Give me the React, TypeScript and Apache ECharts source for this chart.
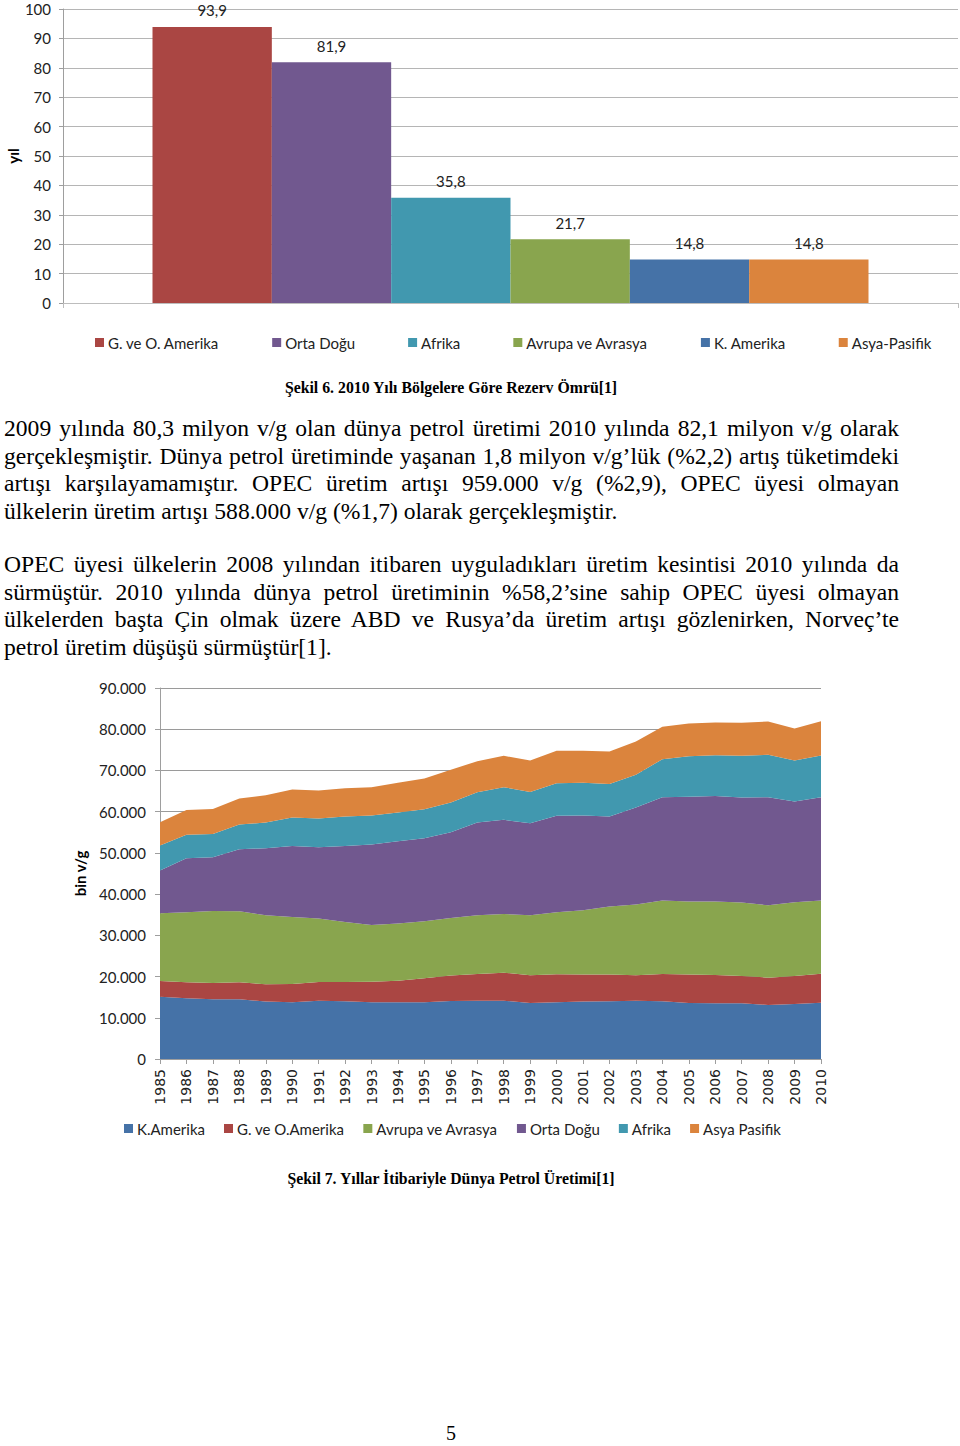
import React, { useEffect, useRef } from "react";
import * as echarts from "echarts";

// ---- Şekil 6 data ----
const reserveRegions = ["G. ve O. Amerika", "Orta Doğu", "Afrika", "Avrupa ve Avrasya", "K. Amerika", "Asya-Pasifik"];
const reserveYears = [93.9, 81.9, 35.8, 21.7, 14.8, 14.8];
const reserveColors = ["#AA4643", "#71588F", "#4198AF", "#89A54E", "#4572A7", "#DB843D"];
const reserveTicks = [0, 10, 20, 30, 40, 50, 60, 70, 80, 90, 100];

// ---- Şekil 7 data ----
const years = [
  "1985", "1986", "1987", "1988", "1989", "1990", "1991", "1992", "1993", "1994", "1995", "1996", "1997",
  "1998", "1999", "2000", "2001", "2002", "2003", "2004", "2005", "2006", "2007", "2008", "2009", "2010",
];
const prodRegions = ["K.Amerika", "G. ve O.Amerika", "Avrupa ve Avrasya", "Orta Doğu", "Afrika", "Asya Pasifik"];
const kAmerika = [15130, 14720, 14480, 14480, 13920, 13750, 14160, 14000, 13750, 13750, 13750, 14080, 14160, 14160, 13590, 13750, 13920, 14000, 14160, 14000, 13590, 13510, 13510, 13110, 13350, 13670];
const gOAmerika = [3800, 3890, 3970, 4130, 4200, 4450, 4530, 4690, 5020, 5260, 5830, 6150, 6470, 6790, 6720, 6800, 6550, 6470, 6150, 6630, 6880, 6880, 6630, 6630, 6790, 7040];
const avrupaAvrasya = [16420, 16990, 17470, 17230, 16750, 16260, 15370, 14560, 13750, 13840, 13830, 13990, 14240, 14240, 14560, 15050, 15610, 16500, 17150, 17800, 17720, 17800, 17800, 17560, 17880, 17720];
const ortaDogu = [10360, 13100, 13030, 15050, 16260, 17240, 17310, 18450, 19500, 19980, 20150, 20790, 22490, 22820, 22330, 23380, 22980, 21840, 23540, 25080, 25400, 25640, 25490, 26210, 24430, 25080];
const afrika = [6070, 5670, 5660, 5980, 6230, 6870, 6960, 7110, 7040, 6950, 7030, 7200, 7360, 7920, 7600, 7920, 7930, 7930, 7930, 9220, 9870, 9870, 10110, 10270, 9960, 10110];
const asyaPasifik = [5660, 6060, 6060, 6310, 6630, 6800, 6790, 6880, 6870, 7210, 7440, 7930, 7520, 7610, 7610, 7850, 7760, 7850, 8090, 7850, 7930, 7930, 8010, 8090, 7760, 8330];
const prodSeries = [kAmerika, gOAmerika, avrupaAvrasya, ortaDogu, afrika, asyaPasifik];
const prodColors = ["#4572A7", "#AA4643", "#89A54E", "#71588F", "#4198AF", "#DB843D"];

const SANS = "Lato, 'Open Sans', sans-serif";
const SERIF = "'Liberation Serif', 'Times New Roman', serif";

function ReserveChart() {
  const ref = useRef<HTMLDivElement>(null);
  useEffect(() => {
    if (!ref.current) return;
    const chart = echarts.init(ref.current, undefined, { renderer: "svg" });
    chart.setOption({
      animation: false,
      grid: { left: 63, right: 2, top: 9, bottom: 67, containLabel: false, outerBoundsMode: "none" },
      graphic: [
        {
          type: "text",
          x: 13,
          y: 156,
          rotation: Math.PI / 2,
          style: {
            text: "yıl",
            fontFamily: SANS,
            fontSize: 15,
            fontWeight: "bold",
            fill: "#000",
            align: "center",
            verticalAlign: "middle",
          },
        },
      ],
      legend: {
        left: 95,
        top: 335,
        padding: 0,
        itemWidth: 9,
        itemHeight: 9,
        itemGap: 53,
        icon: "rect",
        textStyle: { fontFamily: SANS, fontSize: 15, color: "#222", padding: [0, 0, 0, -1] },
        data: reserveRegions,
      },
      xAxis: {
        type: "category",
        data: [""],
        axisLine: { lineStyle: { color: "#BDBDBD" } },
        axisTick: { show: true, length: 5, lineStyle: { color: "#BDBDBD" } },
        axisLabel: { show: false },
      },
      yAxis: {
        type: "value",
        min: 0,
        max: 100,
        interval: 10,
        axisLine: { show: true, lineStyle: { color: "#9E9E9E" } },
        axisTick: { show: true, length: 4, lineStyle: { color: "#9E9E9E" } },
        axisLabel: {
          fontFamily: SANS,
          fontSize: 15,
          color: "#222",
          margin: 12,
          formatter: (v: number) => (reserveTicks.includes(v) ? String(v) : ""),
        },
        splitLine: { lineStyle: { color: "#B5B5B5" } },
      },
      series: reserveRegions.map((name, i) => ({
        name,
        type: "bar",
        barGap: "0%",
        barCategoryGap: "20%",
        itemStyle: { color: reserveColors[i] },
        label: {
          show: true,
          position: "top",
          distance: 9,
          fontFamily: SANS,
          fontSize: 15,
          color: "#222",
          formatter: (p: any) => String(p.value).replace(".", ","),
        },
        data: [reserveYears[i]],
      })),
    });
    return () => chart.dispose();
  }, []);
  return <div ref={ref} style={{ position: "absolute", left: 0, top: 0, width: 960, height: 370 }} />;
}

function ProductionChart() {
  const ref = useRef<HTMLDivElement>(null);
  useEffect(() => {
    if (!ref.current) return;
    const chart = echarts.init(ref.current, undefined, { renderer: "svg" });
    chart.setOption({
      animation: false,
      grid: { left: 160, right: 139, top: 18, bottom: 91, containLabel: false, outerBoundsMode: "none" },
      legend: {
        left: 124,
        top: 451,
        padding: 0,
        itemWidth: 9,
        itemHeight: 9,
        itemGap: 19,
        icon: "rect",
        textStyle: { fontFamily: SANS, fontSize: 15, color: "#222", padding: [0, 0, 0, -1] },
        data: prodRegions,
      },
      xAxis: {
        type: "category",
        data: years,
        boundaryGap: false,
        axisLine: { lineStyle: { color: "#9E9E9E" } },
        axisTick: { show: true, length: 5, interval: 0, lineStyle: { color: "#9E9E9E" } },
        axisLabel: {
          interval: 0,
          rotate: 90,
          fontFamily: "'DejaVu Sans', Verdana, sans-serif",
          fontSize: 14,
          color: "#222",
          margin: 10,
        },
      },
      yAxis: {
        type: "value",
        min: 0,
        max: 90000,
        interval: 10000,
        name: "bin v/g",
        nameLocation: "middle",
        nameGap: 73,
        nameTextStyle: { fontFamily: SANS, fontSize: 15, fontWeight: "bold", color: "#000" },
        axisLine: { show: true, lineStyle: { color: "#9E9E9E" } },
        axisTick: { show: true, length: 5, lineStyle: { color: "#9E9E9E" } },
        axisLabel: {
          fontFamily: SANS,
          fontSize: 15,
          color: "#222",
          margin: 14,
          formatter: (v: number) => (v === 0 ? "0" : Math.round(v / 1000) + ".000"),
        },
        splitLine: { lineStyle: { color: "#9A9A9A" } },
      },
      series: prodRegions.map((name, i) => ({
        name,
        type: "line",
        stack: "total",
        symbol: "none",
        showSymbol: false,
        lineStyle: { width: 0 },
        itemStyle: { color: prodColors[i] },
        areaStyle: { color: prodColors[i], opacity: 1 },
        data: prodSeries[i],
      })),
    });
    return () => chart.dispose();
  }, []);
  return <div ref={ref} style={{ position: "absolute", left: 0, top: 670, width: 960, height: 480 }} />;
}

const para1 = [
  "2009 yılında 80,3 milyon v/g olan dünya petrol üretimi 2010 yılında 82,1 milyon v/g olarak",
  "gerçekleşmiştir. Dünya petrol üretiminde yaşanan 1,8 milyon v/g’lük (%2,2) artış tüketimdeki",
  "artışı karşılayamamıştır. OPEC üretim artışı 959.000 v/g (%2,9), OPEC üyesi olmayan",
  "ülkelerin üretim artışı 588.000 v/g (%1,7) olarak gerçekleşmiştir.",
];
const para2 = [
  "OPEC üyesi ülkelerin 2008 yılından itibaren uyguladıkları üretim kesintisi 2010 yılında da",
  "sürmüştür. 2010 yılında dünya petrol üretiminin %58,2’sine sahip OPEC üyesi olmayan",
  "ülkelerden başta Çin olmak üzere ABD ve Rusya’da üretim artışı gözlenirken, Norveç’te",
  "petrol üretim düşüşü sürmüştür[1].",
];

function Paragraph({ lines, top }: { lines: string[]; top: number }) {
  return (
    <div style={{ position: "absolute", left: 4, top, width: 895 }}>
      {lines.map((l, i) => (
        <div
          key={i}
          style={{
            fontFamily: SERIF,
            fontSize: 23.6,
            lineHeight: "27.7px",
            height: 27.7,
            color: "#000",
            whiteSpace: "nowrap",
            textAlign: i < lines.length - 1 ? "justify" : "left",
            textAlignLast: i < lines.length - 1 ? "justify" : "left",
          }}
        >
          {l}
        </div>
      ))}
    </div>
  );
}

const captionStyle: React.CSSProperties = {
  position: "absolute",
  left: 0,
  width: 902,
  textAlign: "center",
  fontFamily: SERIF,
  fontWeight: "bold",
  fontSize: 15.8,
  lineHeight: "20px",
  color: "#000",
};

export default function App() {
  return (
    <div style={{ position: "absolute", left: 0, top: 0, width: 960, height: 1446, background: "#fff", overflow: "hidden" }}>
      <ReserveChart />
      <div style={{ ...captionStyle, top: 378 }}>Şekil 6. 2010 Yılı Bölgelere Göre Rezerv Ömrü[1]</div>
      <Paragraph lines={para1} top={415} />
      <Paragraph lines={para2} top={551} />
      <ProductionChart />
      <div style={{ ...captionStyle, top: 1169 }}>Şekil 7. Yıllar İtibariyle Dünya Petrol Üretimi[1]</div>
      <div
        style={{
          position: "absolute",
          left: 0,
          width: 902,
          top: 1423,
          textAlign: "center",
          fontFamily: SERIF,
          fontSize: 20,
          lineHeight: "20px",
          color: "#000",
        }}
      >
        5
      </div>
    </div>
  );
}
